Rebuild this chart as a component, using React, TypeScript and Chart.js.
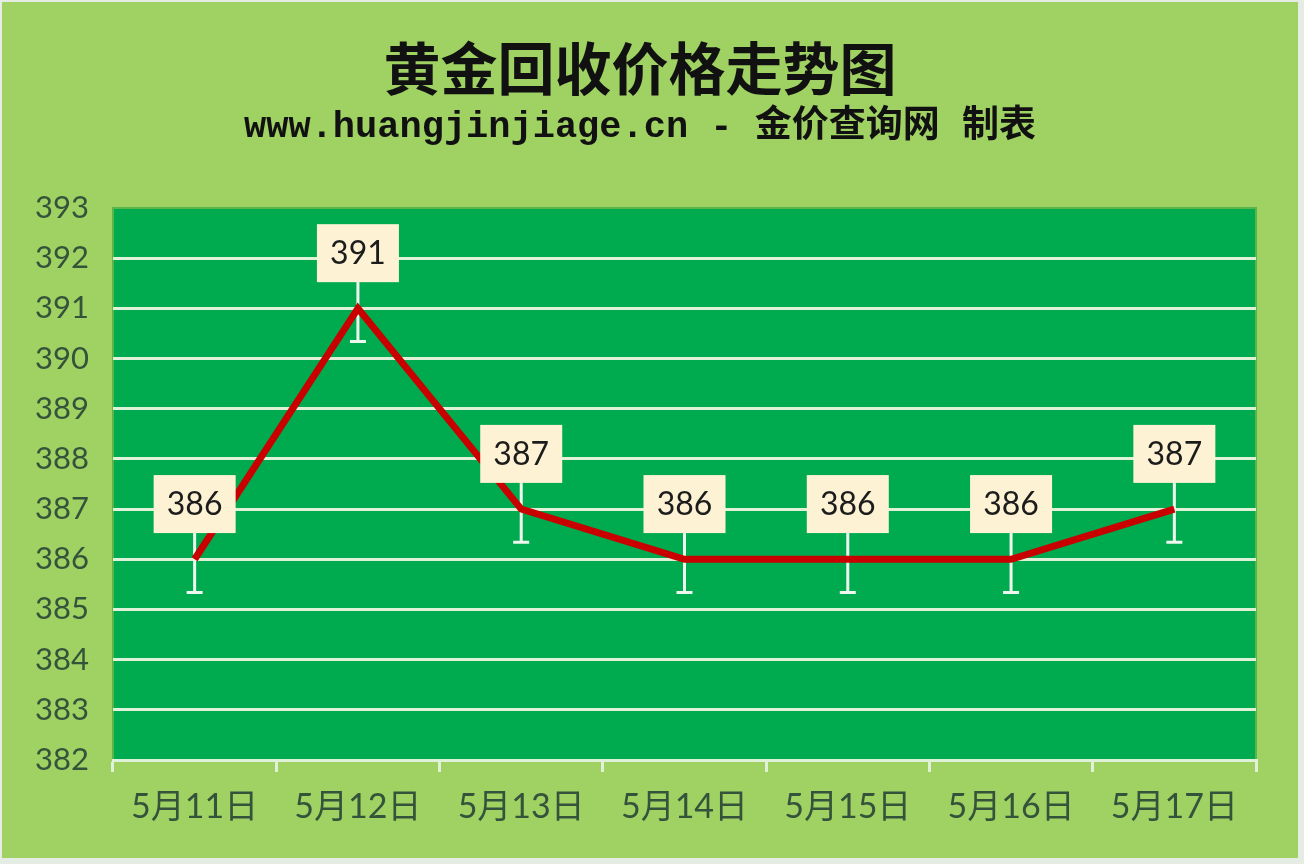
import React, { useEffect, useRef } from 'react';
import { Chart, registerables } from 'chart.js';
import type { ChartConfiguration, Plugin } from 'chart.js';

Chart.register(...registerables);

// chart data
const dates = ['5月11日', '5月12日', '5月13日', '5月14日', '5月15日', '5月16日', '5月17日'];
const prices = [386, 391, 387, 386, 386, 386, 387];
const errorAmount = 0.66;
const labelLift = 1.1;
const yMin = 382;
const yMax = 393;

const titleText = '黄金回收价格走势图';
const subtitleText = 'www.huangjinjiage.cn - 金价查询网 制表';

const plotBg = '#00ab4f';
const gridColor = '#dff2d8';
const axisTextColor = '#35523a';

// background of plot area, titles, error bars
const decorPlugin: Plugin = {
  id: 'decor',
  beforeDraw(chart) {
    const { ctx, chartArea } = chart;
    ctx.save();
    ctx.fillStyle = plotBg;
    ctx.fillRect(chartArea.left, chartArea.top, chartArea.right - chartArea.left, chartArea.bottom - chartArea.top);
    ctx.strokeStyle = '#5cb548';
    ctx.lineWidth = 2;
    ctx.strokeRect(chartArea.left, chartArea.top, chartArea.right - chartArea.left, chartArea.bottom - chartArea.top);

    const cx = chart.width / 2 - 10;
    ctx.fillStyle = '#111';
    ctx.textAlign = 'center';
    ctx.textBaseline = 'middle';
    ctx.font = 'bold 57px "Noto Sans CJK SC", sans-serif';
    ctx.fillText(titleText, cx, 66);
    ctx.font = 'bold 37px "Liberation Mono", "Noto Sans CJK SC", monospace';
    ctx.fillText(subtitleText, cx, 126);
    ctx.restore();
  },
  beforeDatasetsDraw(chart) {
    const { ctx } = chart;
    const xs = chart.scales.x;
    const ys = chart.scales.y;
    ctx.save();
    ctx.strokeStyle = '#eef8ee';
    ctx.lineWidth = 3;
    prices.forEach((v, i) => {
      const x = xs.getPixelForValue(i);
      const top = ys.getPixelForValue(v + errorAmount);
      const bottom = ys.getPixelForValue(v - errorAmount);
      ctx.beginPath();
      ctx.moveTo(x, top);
      ctx.lineTo(x, bottom);
      ctx.moveTo(x - 8, bottom);
      ctx.lineTo(x + 8, bottom);
      ctx.stroke();
    });
    ctx.restore();
  },
  afterDatasetsDraw(chart) {
    const { ctx } = chart;
    const xs = chart.scales.x;
    const ys = chart.scales.y;
    ctx.save();
    ctx.font = '32px Lato, "Open Sans", sans-serif';
    ctx.textAlign = 'center';
    ctx.textBaseline = 'middle';
    prices.forEach((v, i) => {
      const x = xs.getPixelForValue(i);
      const y = ys.getPixelForValue(v + labelLift);
      const w = 82;
      const h = 58;
      ctx.fillStyle = '#fdf3d4';
      ctx.fillRect(x - w / 2, y - h / 2, w, h);
      ctx.fillStyle = '#1c1c1c';
      ctx.fillText(String(v), x, y + 1);
    });
    ctx.restore();
  },
};

const App: React.FC = () => {
  const chartRef = useRef<HTMLCanvasElement>(null);
  const chartInstanceRef = useRef<Chart | null>(null);

  useEffect(() => {
    document.body.style.margin = '0';
    if (!chartRef.current) return;
    if (chartInstanceRef.current) {
      chartInstanceRef.current.destroy();
    }
    const ctx = chartRef.current.getContext('2d');
    if (!ctx) return;

    const config: ChartConfiguration = {
      type: 'line',
      data: {
        labels: dates,
        datasets: [
          {
            label: '黄金回收价格',
            data: prices,
            borderColor: '#c80000',
            borderWidth: 7,
            pointRadius: 0,
            tension: 0,
            fill: false,
          },
        ],
      },
      options: {
        responsive: true,
        maintainAspectRatio: false,
        animation: false,
        layout: {
          padding: { top: 206, right: 42, bottom: 0, left: 0 },
        },
        scales: {
          x: {
            offset: true,
            grid: {
              offset: true,
              drawOnChartArea: false,
              drawTicks: true,
              tickLength: 12,
              color: gridColor,
              lineWidth: 3,
            },
            border: { color: gridColor, width: 3 },
            ticks: {
              color: axisTextColor,
              padding: 15,
              font: { size: 34, family: 'Lato, "Noto Sans CJK SC", sans-serif' },
              maxRotation: 0,
            },
            afterFit(scale: any) {
              scale.height = 98;
            },
          },
          y: {
            min: yMin,
            max: yMax,
            grid: {
              drawTicks: false,
              color: (c: any) => (c.tick && c.tick.value === yMax ? 'rgba(0,0,0,0)' : gridColor),
              lineWidth: 3,
            },
            border: { display: false },
            ticks: {
              stepSize: 1,
              color: axisTextColor,
              padding: 24,
              font: { size: 31, family: 'Lato, "Open Sans", sans-serif' },
            },
            afterFit(scale: any) {
              scale.width = 111;
            },
          },
        },
        plugins: {
          legend: { display: false },
          tooltip: { enabled: false },
        },
      },
      plugins: [decorPlugin],
    };

    chartInstanceRef.current = new Chart(ctx, config);

    return () => {
      if (chartInstanceRef.current) {
        chartInstanceRef.current.destroy();
        chartInstanceRef.current = null;
      }
    };
  }, []);

  return (
    <div style={{ width: 1304, height: 864, background: '#e4ece4', boxSizing: 'border-box', padding: '2px 6px 6px 2px' }}>
      <div style={{ position: 'relative', width: 1296, height: 856, background: '#9fd163' }}>
        <canvas ref={chartRef}></canvas>
      </div>
    </div>
  );
};

export default App;
